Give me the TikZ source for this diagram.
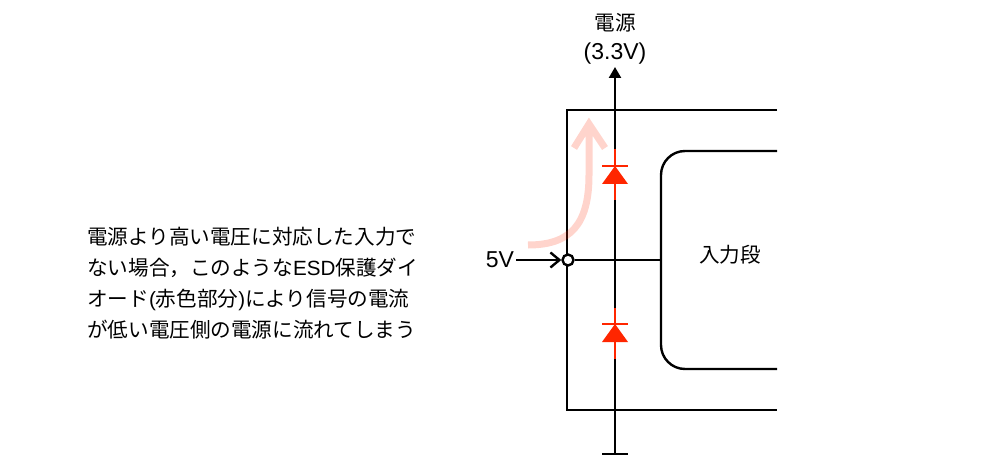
\documentclass[tikz,border=0pt]{standalone}
\usepackage{fontspec}
\setmainfont{Noto Sans CJK JP}
\newfontfamily\latn{Liberation Sans}
\usetikzlibrary{arrows.meta,calc}
\definecolor{esdred}{HTML}{FF2600}
\tikzset{
	wire/.style={line width=2.4pt},
	label/.style={inner sep=0pt, font=\fontsize{20.6}{31}\selectfont},
	latnlabel/.style={inner sep=0pt, font=\fontsize{23}{28}\selectfont\latn},
	flow/.style={line width=7pt, draw=esdred, opacity=0.2},
}
\def\esddiode(#1)(#2){
	\draw[wire, esdred] (#1) -- ++(0,51);
	\draw[wire, esdred] ($(#1)+(-13,#2)$) -- ++(26,0);
	\fill[esdred] ($(#1)+(0,#2)$) -- ++(13,18) -- ++(-26,0) -- cycle;
}

\begin{document}
\begin{tikzpicture}[x=1pt, y=-1pt]
		%%%%% START %%%%%
		\useasboundingbox (0, 0) rectangle (999, 476);
		
		% supply rail
		\coordinate (ground) at (615, 454);
		\coordinate (railtop) at (615, 67);
		\draw[wire, -{Triangle[length=11pt, width=12pt]}] (ground) -- (railtop);
		\draw[wire] (602, 454) -- (628, 454);
		
		% chip outline
		\draw[wire] (777, 110) -- (567, 110) -- (567, 410) -- (777, 410);
		
		% input stage
		\draw[wire, rounded corners=24pt] (777, 151) -- (661, 151) -- (661, 369) -- (777, 369);
		\node[label] (stage) at (730, 255) {入力段};
		
		% input pin
		\node[draw, wire, circle, fill=white, minimum size=11pt, inner sep=0pt] (pin) at (568, 260) {};
		\coordinate (stagein) at (661, 260);
		\draw[wire] (pin) -- (stagein);
		\node[latnlabel] (volt) at (500, 260) {5V};
		\draw[wire, -{Straight Barb[length=9pt, width=15pt]}] (volt) ++(16, 0) -- (pin);
		
		% protection diodes
		\esddiode(615, 149)(17)
		\esddiode(615, 308)(16)
		
		% supply label
		\node[label] (supply) at (615, 23) {電源};
		\node[latnlabel] (supplyv) at (615, 54) {(3.3V)};
		
		% current flow
		\draw[flow, line join=miter] (528, 245) .. controls (570, 245) and (589, 225) .. (589, 175) -- (589, 124)
			(574, 148) -- (589, 124) -- (605, 148);
		
		% note
		\node[label, anchor=west, align=left] (note) at (87, 283)
			{電源より高い電圧に対応した入力で\\
			ない場合，このような{\latn ESD}保護ダイ\\
			オード{\latn (}赤色部分{\latn )}により信号の電流\\
			が低い電圧側の電源に流れてしまう};
		%%%%% END %%%%%
	\end{tikzpicture}
\end{document}
